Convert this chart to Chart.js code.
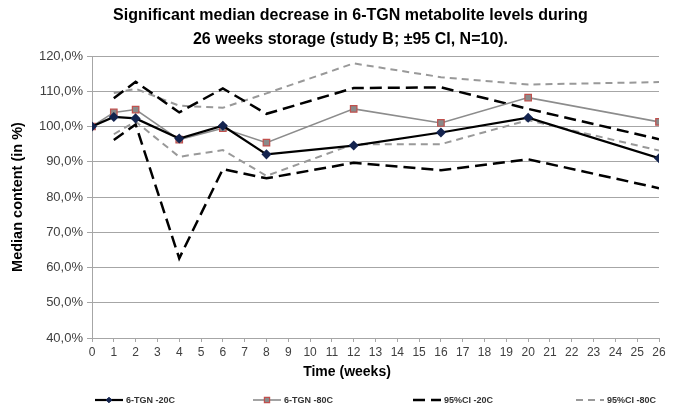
<!DOCTYPE html>
<html>
<head>
<meta charset="utf-8">
<script src="https://cdn.jsdelivr.net/npm/chart.js@4/dist/chart.umd.min.js"></script>
<style>
  html, body { margin: 0; padding: 0; background: #fff; }
  #wrap { width: 677px; height: 404px; position: relative; }
</style>
</head>
<body>
<div id="wrap"><canvas id="storageChart"></canvas></div>
<script>
// Sampling weeks and median content (%) per storage condition
const weeks = [0, 1, 2, 4, 6, 8, 12, 16, 20, 26];
const tgn20 = [100, 102.7, 102.3, 96.6, 100.2, 92.1, 94.6, 98.3, 102.5, 91.0];
const tgn80 = [100, 104.0, 104.8, 96.3, 99.5, 95.4, 105.0, 101.0, 108.2, 101.3];
const ci20Upper = [null, 108.0, 112.7, 104.0, 110.8, 103.6, 110.9, 111.1, 105.0, 96.4];
const ci20Lower = [null, 96.2, 100.6, 62.6, 87.9, 85.3, 89.7, 87.6, 90.7, 82.5];
const ci80Upper = [null, 109.5, 110.7, 105.9, 105.3, 109.4, 117.9, 114.0, 111.9, 112.6];
const ci80Lower = [null, 97.8, 101.4, 91.4, 93.3, 86.0, 95.0, 95.0, 101.8, 93.2];
const yTicks = [40, 50, 60, 70, 80, 90, 100, 110, 120];
const legendNames = ['6-TGN -20C', '6-TGN -80C', '95%CI -20C', '95%CI -80C'];
const xTitle = 'Time (weeks)';

const toPoints = vals => weeks.map((w, i) => ({ x: w, y: vals[i] })).filter(p => p.y !== null);

const FONT = '"Liberation Sans", Arial, sans-serif';
const gridGray = '#a6a6a6';
const lineGray = '#8c8c8c';

function ciSet(vals, color, width, dash) {
  return {
    data: toPoints(vals),
    borderColor: color,
    borderWidth: width,
    borderDash: dash,
    pointRadius: 0,
    fill: false,
    order: 3
  };
}

const datasets = [
  {
    label: legendNames[0],
    data: toPoints(tgn20),
    borderColor: '#000',
    borderWidth: 2.2,
    pointStyle: 'rectRot',
    pointRadius: 3.5,
    pointBackgroundColor: '#14244f',
    pointBorderColor: '#14244f',
    order: 0
  },
  {
    label: legendNames[1],
    data: toPoints(tgn80),
    borderColor: lineGray,
    borderWidth: 1.6,
    pointStyle: 'rect',
    pointRadius: 4.6,
    pointBackgroundColor: '#8a8a8a',
    pointBorderColor: '#c0504d',
    pointBorderWidth: 1.2,
    order: 1
  },
  Object.assign(ciSet(ci20Upper, '#000', 2.5, [12, 6]), { label: legendNames[2] }),
  Object.assign(ciSet(ci20Lower, '#000', 2.5, [12, 6]), { label: legendNames[2] + ' low' }),
  Object.assign(ciSet(ci80Upper, '#999', 2, [7, 5]), { label: legendNames[3], order: 4 }),
  Object.assign(ciSet(ci80Lower, '#999', 2, [7, 5]), { label: legendNames[3] + ' low', order: 4 })
];

// bottom legend: one entry per series, CI pairs share an entry
const legendItems = [
  { ds: 0, x: 95 },
  { ds: 1, x: 253 },
  { ds: 2, x: 413 },
  { ds: 4, x: 576 }
];

const frameCenter = 347;

const bottomLegend = {
  id: 'bottomLegend',
  afterLayout(chart) {
    // title is centred on the whole frame, left of the plot's own centre
    const t = chart.titleBlock;
    if (t) { t.left += 21; t.right += 21; }
  },
  afterDraw(chart) {
    const ctx = chart.ctx;
    ctx.save();

    // x axis caption
    ctx.fillStyle = '#000';
    ctx.font = 'bold 14px ' + FONT;
    ctx.textAlign = 'center';
    ctx.textBaseline = 'middle';
    ctx.fillText(xTitle, frameCenter, chart.chartArea.bottom + 34);

    const y = 400;
    ctx.textAlign = 'left';
    legendItems.forEach((item, i) => {
      const ds = chart.data.datasets[item.ds];
      const len = 28;
      ctx.strokeStyle = ds.borderColor;
      ctx.lineWidth = ds.borderWidth;
      ctx.setLineDash(ds.borderDash || []);
      ctx.beginPath();
      ctx.moveTo(item.x, y);
      ctx.lineTo(item.x + len, y);
      ctx.stroke();
      ctx.setLineDash([]);
      if (ds.pointRadius) {
        ctx.fillStyle = ds.pointBackgroundColor;
        ctx.strokeStyle = ds.pointBorderColor;
        ctx.lineWidth = ds.pointBorderWidth || 1;
        Chart.helpers.drawPoint(ctx, {
          pointStyle: ds.pointStyle,
          radius: ds.pointRadius * 0.8,
          borderWidth: ds.pointBorderWidth || 1
        }, item.x + len / 2, y);
      }
      ctx.fillStyle = '#333';
      ctx.font = 'bold 9px ' + FONT;
      ctx.fillText(legendNames[i], item.x + len + 3, y + 0.5);
    });
    ctx.restore();
  }
};

const ctx = document.getElementById('storageChart').getContext('2d');
new Chart(ctx, {
  type: 'line',
  data: { datasets },
  plugins: [bottomLegend],
  options: {
    responsive: true,
    maintainAspectRatio: false,
    animation: false,
    layout: { padding: { left: 0, right: 18, top: 0, bottom: 24 } },
    elements: { line: { tension: 0 } },
    plugins: {
      legend: { display: false },
      tooltip: { enabled: false },
      title: {
        display: true,
        text: ['Significant median decrease in 6-TGN metabolite levels during',
               '26 weeks storage (study B; \u00b195 CI, N=10).'],
        color: '#000',
        font: { family: FONT, size: 16, weight: 'bold', lineHeight: 1.5 },
        padding: { top: 4, bottom: 4 }
      }
    },
    scales: {
      x: {
        type: 'linear',
        min: 0,
        max: 26,
        afterFit: s => { s.height = 42; },
        ticks: {
          stepSize: 1,
          autoSkip: false,
          maxRotation: 0,
          padding: 3,
          color: '#404040',
          font: { family: FONT, size: 12 }
        },
        grid: { drawOnChartArea: false, drawTicks: true, tickLength: 4, color: gridGray },
        border: { color: gridGray }
      },
      y: {
        min: 40,
        max: 120,
        afterFit: s => { s.width = 92; },
        afterBuildTicks: s => { s.ticks = yTicks.map(v => ({ value: v })); },
        ticks: {
          padding: 4,
          color: '#404040',
          font: { family: FONT, size: 13 },
          callback: v => v.toFixed(1).replace('.', ',') + '%'
        },
        grid: { color: gridGray, lineWidth: 1, tickLength: 5 },
        border: { color: gridGray },
        title: {
          display: true,
          text: 'Median content (in %)',
          color: '#000',
          padding: { top: 9, bottom: 0 },
          font: { family: FONT, size: 14.5, weight: 'bold' }
        }
      }
    }
  }
});
</script>
</body>
</html>
